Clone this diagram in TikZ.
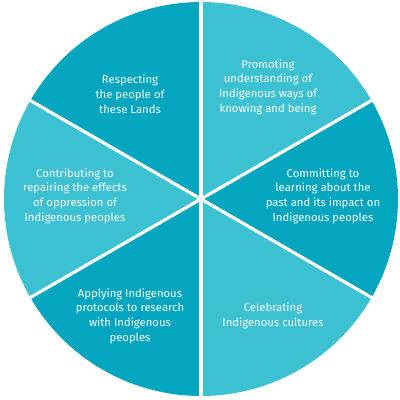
\documentclass[tikz,border=0pt]{standalone}
\usepackage{fontspec}
\setmainfont{Fira Sans}
\definecolor{darkteal}{HTML}{04A6BF}
\definecolor{lightteal}{HTML}{3BC1D1}
\tikzset{
	label text/.style={text=white, align=center, font=\fontsize{11.3}{14.8}\selectfont},
}
\begin{document}
\begin{tikzpicture}[x=1pt, y=1pt]
	\useasboundingbox (-201,-201) rectangle (199,199);
	\coordinate (centre) at (0,0);
	% sectors
	\foreach \a/\c in {30/lightteal, 90/darkteal, 150/lightteal, 210/darkteal, 270/lightteal, 330/darkteal}
		\fill[\c] (centre) -- (\a:197) arc[start angle=\a, delta angle=60, radius=197] -- cycle;
	% dividers
	\foreach \a in {30,90,...,330}
		\draw[white, line width=3.2pt] (centre) -- (\a:199);
	\node[label text] (respect) at (-71,105) {Respecting\\the people of\\these Lands};
	\node[label text] (promote) at (67,112) {Promoting\\understanding of\\Indigenous ways of\\knowing and being};
	\node[label text] (commit) at (122,3) {Committing to\\learning about the\\past and its impact on\\Indigenous peoples};
	\node[label text] (repair) at (-126,3) {Contributing to\\repairing the effects\\of oppression of\\Indigenous peoples};
	\node[label text] (protocol) at (-71,-117) {Applying Indigenous\\protocols to research\\with Indigenous\\peoples};
	\node[label text] (celebrate) at (72,-117) {Celebrating\\Indigenous cultures};
\end{tikzpicture}
\end{document}
